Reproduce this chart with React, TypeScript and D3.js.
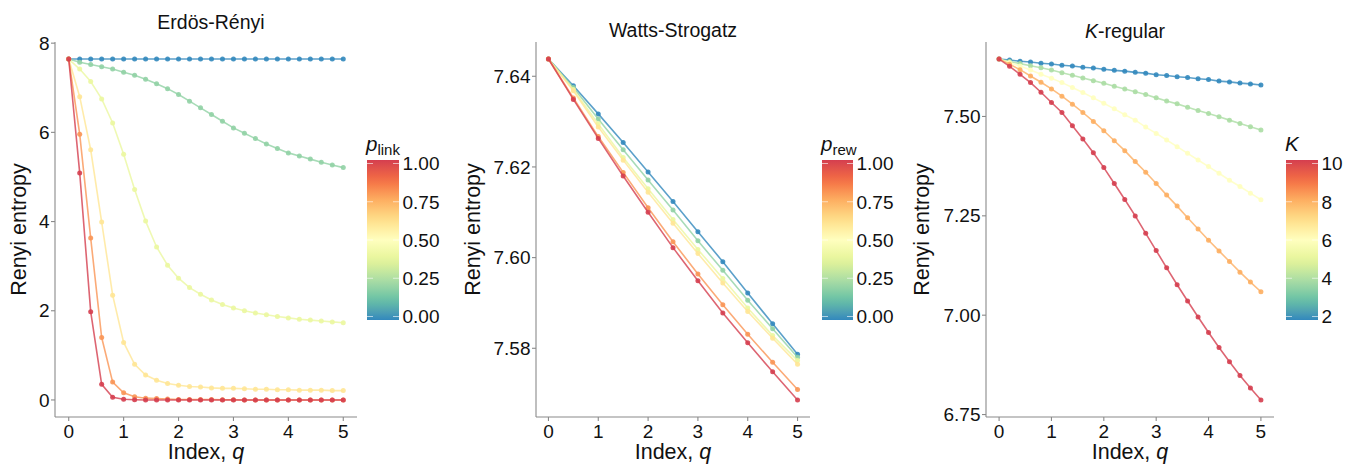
import React from 'react';
import * as d3 from 'd3';

// ---------- data ----------
const Q_FINE = [0, 0.2, 0.4, 0.6, 0.8, 1, 1.2, 1.4, 1.6, 1.8, 2, 2.2, 2.4, 2.6, 2.8, 3, 3.2, 3.4, 3.6, 3.8, 4, 4.2, 4.4, 4.6, 4.8, 5];
const Q_COARSE = [0, 0.5, 1, 1.5, 2, 2.5, 3, 3.5, 4, 4.5, 5];

const ER_P = [0, 0.2, 0.4, 0.6, 0.8, 1.0];
const ER_P00 = [7.644, 7.644, 7.644, 7.644, 7.644, 7.644, 7.644, 7.644, 7.644, 7.644, 7.644, 7.644, 7.644, 7.644, 7.644, 7.644, 7.644, 7.644, 7.644, 7.644, 7.644, 7.644, 7.644, 7.644, 7.644, 7.644];
const ER_P02 = [7.644, 7.57, 7.52, 7.47, 7.42, 7.35, 7.28, 7.19, 7.09, 6.98, 6.85, 6.70, 6.55, 6.40, 6.25, 6.10, 5.98, 5.86, 5.74, 5.64, 5.54, 5.47, 5.40, 5.33, 5.27, 5.21];
const ER_P04 = [7.644, 7.42, 7.14, 6.75, 6.21, 5.51, 4.72, 4.01, 3.43, 3.02, 2.73, 2.52, 2.37, 2.24, 2.14, 2.06, 2.00, 1.95, 1.91, 1.87, 1.84, 1.81, 1.79, 1.77, 1.75, 1.73];
const ER_P06 = [7.644, 6.80, 5.61, 3.99, 2.35, 1.29, 0.80, 0.56, 0.44, 0.37, 0.33, 0.30, 0.29, 0.27, 0.26, 0.26, 0.25, 0.24, 0.24, 0.23, 0.23, 0.22, 0.22, 0.22, 0.21, 0.21];
const ER_P08 = [7.644, 5.96, 3.63, 1.40, 0.40, 0.16, 0.07, 0.04, 0.03, 0.02, 0.01, 0.01, 0.01, 0.01, 0.005, 0.005, 0, 0, 0, 0, 0, 0, 0, 0, 0, 0];
const ER_P10 = [7.644, 5.09, 1.98, 0.35, 0.06, 0.015, 0.005, 0, 0, 0, 0, 0, 0, 0, 0, 0, 0, 0, 0, 0, 0, 0, 0, 0, 0, 0];

const WS_P = [0, 0.2, 0.4, 0.6, 0.8, 1.0];
const WS_P00 = [7.6438, 7.6379, 7.6317, 7.6254, 7.6189, 7.6124, 7.6057, 7.5991, 7.5922, 7.5854, 7.5787];
const WS_P02 = [7.6438, 7.6375, 7.6306, 7.6238, 7.6171, 7.6105, 7.6037, 7.5972, 7.5906, 7.5843, 7.5780];
const WS_P04 = [7.6438, 7.6371, 7.6295, 7.6221, 7.6152, 7.6084, 7.6018, 7.5954, 7.5889, 7.5828, 7.5773];
const WS_P06 = [7.6438, 7.6368, 7.6288, 7.6215, 7.6144, 7.6076, 7.6009, 7.5944, 7.5881, 7.5822, 7.5765];
const WS_P08 = [7.6438, 7.6352, 7.6267, 7.6188, 7.6110, 7.6035, 7.5964, 7.5896, 7.5831, 7.5769, 7.5709];
const WS_P10 = [7.6438, 7.6349, 7.6263, 7.6180, 7.6100, 7.6022, 7.5949, 7.5878, 7.5812, 7.5748, 7.5686];

const KR_K = [2, 4, 6, 8, 10];
const KR_K2 = [7.6445, 7.642, 7.639, 7.637, 7.634, 7.632, 7.629, 7.627, 7.624, 7.622, 7.619, 7.616, 7.614, 7.611, 7.609, 7.605, 7.603, 7.600, 7.598, 7.595, 7.593, 7.589, 7.587, 7.584, 7.582, 7.579];
const KR_K4 = [7.6445, 7.6385, 7.6330, 7.6278, 7.6228, 7.6169, 7.6102, 7.6036, 7.5969, 7.5902, 7.5835, 7.5760, 7.5693, 7.5622, 7.5551, 7.5468, 7.5392, 7.5317, 7.5234, 7.5150, 7.5075, 7.4992, 7.4908, 7.4825, 7.4741, 7.4658];
const KR_K6 = [7.6445, 7.6361, 7.6269, 7.6169, 7.6061, 7.5960, 7.5852, 7.5727, 7.5601, 7.5468, 7.5334, 7.5192, 7.5042, 7.4908, 7.4733, 7.4574, 7.4407, 7.4240, 7.4073, 7.3906, 7.3739, 7.3572, 7.3396, 7.3238, 7.3071, 7.2904];
const KR_K8 = [7.6445, 7.6316, 7.6178, 7.6019, 7.5860, 7.5693, 7.5510, 7.5310, 7.5100, 7.4875, 7.4641, 7.4390, 7.4140, 7.3864, 7.3597, 7.3313, 7.3021, 7.2745, 7.2453, 7.2169, 7.1885, 7.1617, 7.1350, 7.1083, 7.0832, 7.0590];
const KR_K10 = [7.6445, 7.6261, 7.6061, 7.5852, 7.5610, 7.5351, 7.5100, 7.4766, 7.4432, 7.4089, 7.3714, 7.3313, 7.2912, 7.2498, 7.2060, 7.1626, 7.1192, 7.0766, 7.0356, 6.9955, 6.9563, 6.9187, 6.8828, 6.8485, 6.8168, 6.7867];

const X_TICKS = [0, 1, 2, 3, 4, 5];
const ER_Y_TICKS = [0, 2, 4, 6, 8];
const WS_Y_TICKS = [7.58, 7.60, 7.62, 7.64];
const KR_Y_TICKS = [6.75, 7.00, 7.25, 7.50];
const PROB_LEGEND_TICKS = [0, 0.25, 0.5, 0.75, 1];
const K_LEGEND_TICKS = [2, 4, 6, 8, 10];

const SPECTRAL9 = ['#3288bd', '#66c2a5', '#abdda4', '#e6f598', '#ffffbf', '#fee08b', '#fdae61', '#f46d43', '#d53e4f'];

// ---------- styling ----------
const FONT = '"Liberation Sans", Arial, Helvetica, sans-serif';
const AXIS_COLOR = '#8a8a8a';
const TEXT_COLOR = '#111';
const TOP = 42;
const BOTTOM = 417;
const TICK_FS = 19;
const interp = d3.piecewise(d3.interpolateLab, SPECTRAL9);

type PanelProps = {
  id: string;
  title: React.ReactNode;
  titleX: number;
  titleY: number;
  left: number;
  right: number;
  q: number[];
  series: number[][];
  params: number[];
  paramDomain: [number, number];
  yTicks: number[];
  yFmt: (v: number) => string;
  ytitleX: number;
  legendX: number;
  legendW: number;
  legendTitle: React.ReactNode;
  legendTicks: number[];
  legendFmt: (v: number) => string;
};

function Panel(p: PanelProps) {
  const x = d3.scaleLinear().domain([-0.25, 5.25]).range([p.left, p.right]);
  const all = p.series.flat();
  const lo = d3.min(all) as number;
  const hi = d3.max(all) as number;
  const pad = (hi - lo) * 0.05;
  const y = d3.scaleLinear().domain([lo - pad, hi + pad]).range([BOTTOM, TOP]);
  const color = (v: number) => interp((v - p.paramDomain[0]) / (p.paramDomain[1] - p.paramDomain[0]));
  const line = d3.line<number>().x((_, i) => x(p.q[i])).y((d) => y(d));

  const barTop = 160;
  const barBot = 320;
  const ly = d3.scaleLinear().domain(p.paramDomain).range([316.5, 163.5]);
  const gradId = `grad-${p.id}`;
  const stops = d3.range(0, 1.0001, 0.05);

  return (
    <g>
      <defs>
        <linearGradient id={gradId} x1="0" y1="1" x2="0" y2="0">
          {stops.map((t) => (
            <stop key={t} offset={`${t * 100}%`} stopColor={interp(t)} />
          ))}
        </linearGradient>
      </defs>
      {/* title */}
      <text x={p.titleX} y={p.titleY} textAnchor="middle" fontSize={19.5} fill={TEXT_COLOR} fontFamily={FONT}>
        {p.title}
      </text>
      {/* series */}
      {p.series.map((s, si) => (
        <g key={si}>
          <path d={line(s) || ''} fill="none" stroke={color(p.params[si])} strokeWidth={1.6} strokeOpacity={0.8} />
          {s.map((v, i) => (
            <circle key={i} cx={x(p.q[i])} cy={y(v)} r={2.5} fill={color(p.params[si])} fillOpacity={0.9} />
          ))}
        </g>
      ))}
      {/* axes */}
      <line x1={p.left} x2={p.left} y1={TOP} y2={BOTTOM} stroke={AXIS_COLOR} strokeWidth={1.1} />
      <line x1={p.left} x2={p.right} y1={BOTTOM} y2={BOTTOM} stroke={AXIS_COLOR} strokeWidth={1.1} />
      {X_TICKS.map((t) => (
        <g key={t}>
          <line x1={x(t)} x2={x(t)} y1={BOTTOM} y2={BOTTOM + 4} stroke={AXIS_COLOR} strokeWidth={1.1} />
          <text x={x(t)} y={BOTTOM + 20.5} textAnchor="middle" fontSize={TICK_FS} fill={TEXT_COLOR} fontFamily={FONT}>
            {t}
          </text>
        </g>
      ))}
      {p.yTicks.map((t) => (
        <g key={t}>
          <line x1={p.left - 4} x2={p.left} y1={y(t)} y2={y(t)} stroke={AXIS_COLOR} strokeWidth={1.1} />
          <text x={p.left - 5.5} y={y(t)} dy="0.35em" textAnchor="end" fontSize={TICK_FS} fill={TEXT_COLOR} fontFamily={FONT}>
            {p.yFmt(t)}
          </text>
        </g>
      ))}
      {/* axis titles */}
      <text x={(p.left + p.right) / 2} y={459} textAnchor="middle" fontSize={21.5} fill={TEXT_COLOR} fontFamily={FONT}>
        Index, <tspan fontStyle="italic">q</tspan>
      </text>
      <text
        transform={`translate(${p.ytitleX},${(TOP + BOTTOM) / 2}) rotate(-90)`}
        textAnchor="middle"
        fontSize={21.5}
        fill={TEXT_COLOR}
        fontFamily={FONT}
      >
        Renyi entropy
      </text>
      {/* legend */}
      <text x={p.legendX - 1} y={151} fontSize={20.5} fill={TEXT_COLOR} fontFamily={FONT}>
        {p.legendTitle}
      </text>
      <rect x={p.legendX} y={barTop} width={p.legendW} height={barBot - barTop} fill={`url(#${gradId})`} />
      {p.legendTicks.map((t) => (
        <g key={t}>
          <line x1={p.legendX} x2={p.legendX + 6} y1={ly(t)} y2={ly(t)} stroke="#fff" strokeOpacity={0.6} strokeWidth={1} />
          <line x1={p.legendX + p.legendW - 6} x2={p.legendX + p.legendW} y1={ly(t)} y2={ly(t)} stroke="#fff" strokeOpacity={0.6} strokeWidth={1} />
          <text x={p.legendX + p.legendW + 3.5} y={ly(t)} dy="0.36em" fontSize={TICK_FS} fill={TEXT_COLOR} fontFamily={FONT}>
            {p.legendFmt(t)}
          </text>
        </g>
      ))}
    </g>
  );
}

export default function App() {
  const f2 = d3.format('.2f');
  return (
    <svg width={1364} height={466} style={{ position: 'absolute', left: 0, top: 0, background: '#fff' }}>
      <rect width={1364} height={466} fill="#fff" />
      <Panel
        id="er"
        title="Erdös-Rényi"
        titleX={211}
        titleY={29}
        left={55}
        right={357}
        q={Q_FINE}
        series={[ER_P00, ER_P02, ER_P04, ER_P06, ER_P08, ER_P10]}
        params={ER_P}
        paramDomain={[0, 1]}
        yTicks={ER_Y_TICKS}
        yFmt={(v) => String(v)}
        ytitleX={26}
        legendX={367}
        legendW={32}
        legendTitle={<><tspan fontStyle="italic">p</tspan><tspan fontSize={15} dy={4}>link</tspan></>}
        legendTicks={PROB_LEGEND_TICKS}
        legendFmt={f2}
      />
      <Panel
        id="ws"
        title="Watts-Strogatz"
        titleX={673}
        titleY={37}
        left={536}
        right={810}
        q={Q_COARSE}
        series={[WS_P00, WS_P02, WS_P04, WS_P06, WS_P08, WS_P10]}
        params={WS_P}
        paramDomain={[0, 1]}
        yTicks={WS_Y_TICKS}
        yFmt={f2}
        ytitleX={480}
        legendX={822}
        legendW={31}
        legendTitle={<><tspan fontStyle="italic">p</tspan><tspan fontSize={15} dy={4}>rew</tspan></>}
        legendTicks={PROB_LEGEND_TICKS}
        legendFmt={f2}
      />
      <Panel
        id="kr"
        title={<><tspan fontStyle="italic">K</tspan>-regular</>}
        titleX={1125}
        titleY={38}
        left={986}
        right={1274}
        q={Q_FINE}
        series={[KR_K2, KR_K4, KR_K6, KR_K8, KR_K10]}
        params={KR_K}
        paramDomain={[2, 10]}
        yTicks={KR_Y_TICKS}
        yFmt={f2}
        ytitleX={929}
        legendX={1286}
        legendW={32}
        legendTitle={<tspan fontStyle="italic">K</tspan>}
        legendTicks={K_LEGEND_TICKS}
        legendFmt={(v) => String(v)}
      />
    </svg>
  );
}
